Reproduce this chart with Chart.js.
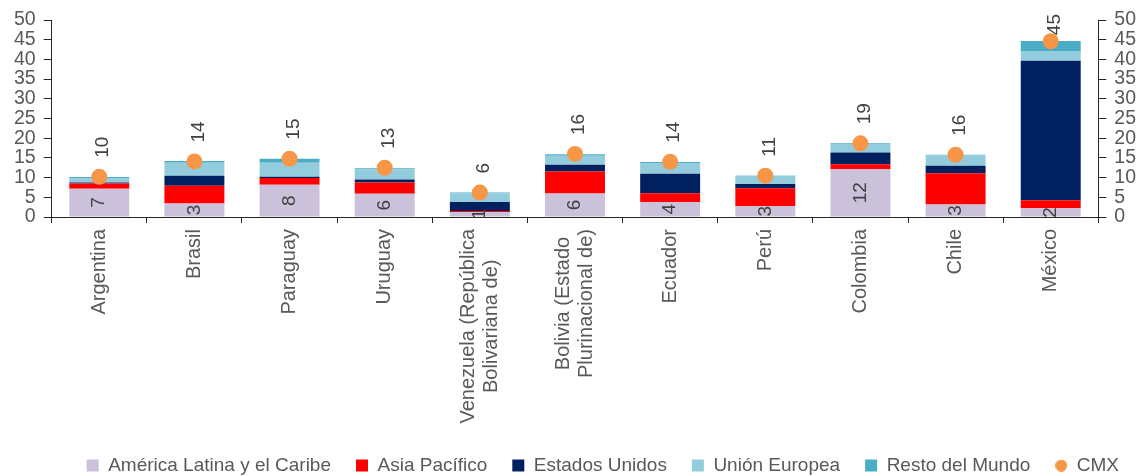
<!DOCTYPE html>
<html lang="es">
<head>
<meta charset="utf-8">
<title>CMX por región de origen</title>
<script src="https://cdn.jsdelivr.net/npm/chart.js@4.4.1/dist/chart.umd.min.js"></script>
<style>
  html, body { margin: 0; padding: 0; background: #fff; }
  #wrap { width: 1144px; height: 476px; position: relative; }
</style>
</head>
<body>
<div id="wrap"><canvas id="grafico"></canvas></div>
<script>
const paises = [
  'Argentina', 'Brasil', 'Paraguay', 'Uruguay',
  ['Venezuela (República', 'Bolivariana de)'],
  ['Bolivia (Estado', 'Plurinacional de)'],
  'Ecuador', 'Perú', 'Colombia', 'Chile', 'México'
];
const americaLatina = [7.2, 3.4, 8.2, 5.9, 1.3, 5.95, 3.8, 2.8, 12.2, 3.2, 2.2];
const asiaPacifico  = [1.3, 4.5, 1.7, 2.85, 0.2, 5.6, 2.2, 4.5, 1.2, 7.9, 2.05];
const estadosUnidos = [0.25, 2.6, 0.3, 0.75, 2.3, 1.7, 5.0, 1.1, 3.0, 1.9, 35.4];
const unionEuropea  = [1.0, 3.3, 3.6, 2.6, 2.2, 2.3, 2.55, 2.05, 2.1, 2.6, 2.5];
const restoMundo    = [0.4, 0.4, 1.0, 0.25, 0.2, 0.4, 0.4, 0.1, 0.2, 0.2, 2.5];
const cmx           = [10.2, 14.1, 14.8, 12.5, 6.2, 16.0, 14.0, 10.5, 18.7, 15.8, 44.6];
const ticksY = [0, 5, 10, 15, 20, 25, 30, 35, 40, 45, 50];

const gris = '#595959';
const ejes = '#262626';
const fuente = 'Arial, "Liberation Sans", sans-serif';
Chart.defaults.font.family = fuente;

// círculo de la leyenda para CMX
const puntoLeyenda = document.createElement('canvas');
puntoLeyenda.width = 12;
puntoLeyenda.height = 12;
{
  const c = puntoLeyenda.getContext('2d');
  c.fillStyle = '#F79646';
  c.beginPath();
  c.arc(6, 6, 6, 0, Math.PI * 2);
  c.fill();
}

const etiquetas = {
  id: 'etiquetas',
  afterDatasetsDraw(chart) {
    const ctx = chart.ctx;
    ctx.save();
    ctx.font = '19px ' + fuente;
    ctx.fillStyle = '#404040';
    ctx.textBaseline = 'middle';

    // valor de América Latina en el centro del tramo
    chart.getDatasetMeta(0).data.forEach((bar, i) => {
      ctx.save();
      ctx.translate(bar.x, (bar.y + bar.base) / 2);
      ctx.rotate(-Math.PI / 2);
      ctx.textAlign = 'center';
      ctx.fillText(String(Math.round(americaLatina[i])), 0, 0);
      ctx.restore();
    });

    // total CMX encima del punto
    chart.getDatasetMeta(5).data.forEach((pt, i) => {
      const txt = String(Math.round(cmx[i]));
      const w = ctx.measureText(txt).width;
      let inicio = pt.y - 19;
      if (inicio - w < 14) inicio = 14 + w;
      ctx.save();
      ctx.translate(pt.x + 4, inicio);
      ctx.rotate(-Math.PI / 2);
      ctx.textAlign = 'left';
      ctx.fillText(txt, 0, 0);
      ctx.restore();
    });
    ctx.restore();
  },
  // nombres de país verticales, líneas centradas entre sí
  afterDraw(chart) {
    const ctx = chart.ctx;
    const xs = chart.scales.x;
    const arriba = chart.chartArea.bottom + 12;
    const interlinea = 22.5;
    ctx.save();
    ctx.font = '20px ' + fuente;
    ctx.fillStyle = gris;
    ctx.textBaseline = 'middle';
    ctx.textAlign = 'center';
    paises.forEach((p, i) => {
      const lineas = Array.isArray(p) ? p : [p];
      const ancho = Math.max(...lineas.map(l => ctx.measureText(l).width));
      const x0 = xs.getPixelForValue(i);
      lineas.forEach((l, j) => {
        ctx.save();
        ctx.translate(x0 + (j - (lineas.length - 1) / 2) * interlinea, arriba + ancho / 2);
        ctx.rotate(-Math.PI / 2);
        ctx.fillText(l, 0, 0);
        ctx.restore();
      });
    });
    ctx.restore();
  }
};

function barra(label, data, color) {
  return { label, data, backgroundColor: color, borderWidth: 0, pointStyle: 'rect',
           categoryPercentage: 1, barPercentage: 0.63 };
}

const ejeValores = (pos) => ({
  position: pos,
  stacked: true,
  min: ticksY[0],
  max: ticksY[ticksY.length - 1],
  ticks: { stepSize: ticksY[1] - ticksY[0], autoSkip: false, color: gris, font: { size: 19.5 }, padding: 8 },
  grid: { drawOnChartArea: false, tickLength: 8, color: ejes },
  border: { color: ejes, width: 1 }
});

new Chart(document.getElementById('grafico'), {
  type: 'bar',
  data: {
    labels: paises,
    datasets: [
      barra('América Latina y el Caribe', americaLatina, '#CCC1DA'),
      barra('Asia Pacífico', asiaPacifico, '#FF0000'),
      barra('Estados Unidos', estadosUnidos, '#002060'),
      barra('Unión Europea', unionEuropea, '#93CDDD'),
      barra('Resto del Mundo', restoMundo, '#4BACC6'),
      {
        type: 'line',
        label: 'CMX',
        data: cmx,
        showLine: false,
        order: -1,
        pointRadius: 8,
        pointHoverRadius: 8,
        pointBackgroundColor: '#F79646',
        pointBorderWidth: 0,
        backgroundColor: '#F79646',
        borderColor: '#F79646'
      }
    ]
  },
  options: {
    responsive: true,
    maintainAspectRatio: false,
    animation: false,
    layout: { padding: { left: 6, right: 0, top: 20, bottom: -9 } },
    plugins: {
      tooltip: { enabled: false },
      legend: {
        position: 'bottom',
        align: 'end',
        labels: {
          color: gris,
          font: { size: 19 },
          usePointStyle: true,
          boxWidth: 12,
          boxHeight: 12,
          padding: 25,
          sort: (a, b) => a.datasetIndex - b.datasetIndex,
          generateLabels(chart) {
            const items = Chart.defaults.plugins.legend.labels.generateLabels(chart);
            items.forEach(it => {
              it.pointStyle = it.datasetIndex === 5 ? puntoLeyenda : 'rect';
              it.lineWidth = 0;
            });
            return items;
          }
        }
      }
    },
    scales: {
      x: {
        stacked: true,
        ticks: { display: false },
        grid: { drawOnChartArea: false, tickLength: 6, color: ejes, offset: true },
        border: { color: ejes, width: 1 },
        afterFit(scale) { scale.height = 214; }
      },
      y: ejeValores('left'),
      y1: ejeValores('right')
    }
  },
  plugins: [etiquetas]
});
</script>
</body>
</html>
